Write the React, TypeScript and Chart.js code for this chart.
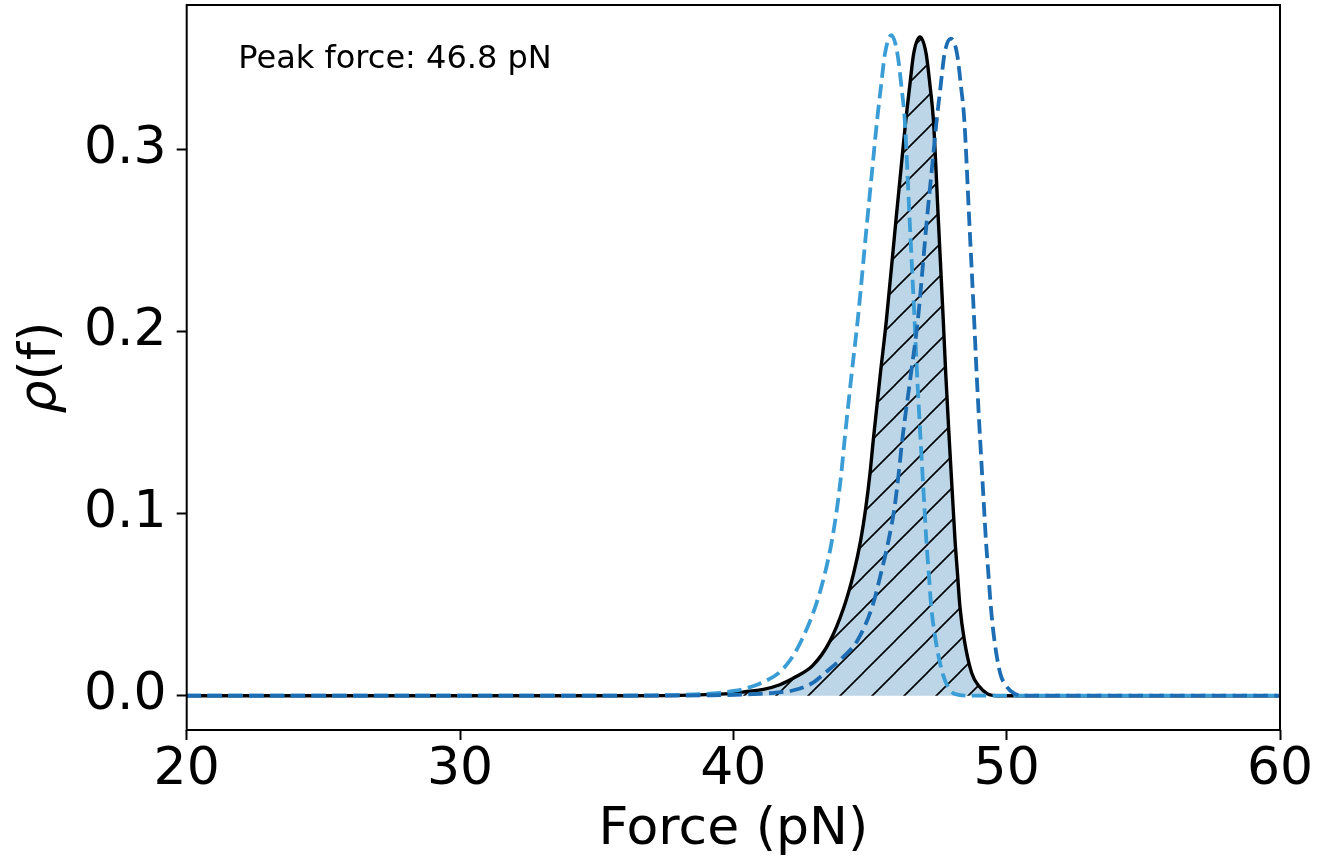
import React, { useEffect, useRef } from "react";
import { Chart, registerables } from "chart.js";

Chart.register(...registerables);

// ---- data ----
const forceMain = [20, 36, 38, 39, 40, 40.5, 41.1, 41.7, 42.3, 42.9, 43.5, 44.05, 44.4, 44.66, 44.85, 45.0, 45.12, 45.38, 45.6, 45.95, 46.13, 46.31, 46.45, 46.6, 46.83, 47.05, 47.2, 47.32, 47.5, 47.68, 47.77, 47.9, 48.04, 48.11, 48.2, 48.29, 48.45, 48.72, 49.0, 49.3, 49.65, 60];
const rhoMain = [0, 0, 0.0002, 0.0006, 0.0013, 0.0023, 0.0035, 0.006, 0.0105, 0.0165, 0.029, 0.0489, 0.0672, 0.0855, 0.1038, 0.1222, 0.1405, 0.1771, 0.2064, 0.2614, 0.2889, 0.3163, 0.3346, 0.353, 0.362, 0.353, 0.3346, 0.3163, 0.2614, 0.2064, 0.1771, 0.1405, 0.1038, 0.0855, 0.0672, 0.0489, 0.0306, 0.0125, 0.005, 0.001, 0, 0];

const forceLow = [20, 35, 37, 38.5, 39.26, 40.0, 40.49, 41.1, 41.7, 42.1, 42.5, 43.0, 43.35, 43.61, 43.8, 43.95, 44.07, 44.33, 44.55, 44.9, 45.08, 45.26, 45.4, 45.55, 45.78, 46.0, 46.15, 46.27, 46.45, 46.63, 46.72, 46.85, 46.99, 47.06, 47.15, 47.24, 47.4, 47.65, 47.93, 48.25, 48.6, 60];
const rhoLow = [0, 0, 0.0002, 0.0007, 0.0013, 0.0026, 0.0041, 0.0075, 0.013, 0.02, 0.0306, 0.0489, 0.0672, 0.0855, 0.1038, 0.1222, 0.1405, 0.1771, 0.2064, 0.2614, 0.2889, 0.3163, 0.3346, 0.353, 0.363, 0.353, 0.3346, 0.3163, 0.2614, 0.2064, 0.1771, 0.1405, 0.1038, 0.0855, 0.0672, 0.0489, 0.0306, 0.0125, 0.003, 0.0004, 0, 0];

const forceHigh = [20, 37, 39, 40.5, 41.5, 42.2, 42.9, 43.35, 44.0, 44.55, 45.08, 45.4, 45.68, 45.9, 46.05, 46.18, 46.5, 46.75, 47.08, 47.26, 47.44, 47.58, 47.73, 47.96, 48.18, 48.33, 48.45, 48.63, 48.81, 48.9, 49.03, 49.17, 49.24, 49.33, 49.42, 49.55, 49.76, 50.0, 50.3, 50.7, 60];
const rhoHigh = [0, 0, 0.0002, 0.0007, 0.0016, 0.003, 0.007, 0.0125, 0.021, 0.0306, 0.0489, 0.0672, 0.0855, 0.1038, 0.1222, 0.1405, 0.1771, 0.2064, 0.2614, 0.2889, 0.3163, 0.3346, 0.353, 0.361, 0.353, 0.3346, 0.3163, 0.2614, 0.2064, 0.1771, 0.1405, 0.1038, 0.0855, 0.0672, 0.0489, 0.0306, 0.0125, 0.005, 0.001, 0, 0];

const xTicks = [20, 30, 40, 50, 60];
const yTicks = [0, 0.1, 0.2, 0.3];
const xRange = [20, 60];
const yRange = [-0.01885, 0.3795];
const xTitle = "Force (pN)";
const yTitleSymbol = "ρ";
const yTitleRest = "(f)";
const peakLabel = "Peak force: 46.8 pN";

const FONT = '"DejaVu Sans", "Noto Sans", sans-serif';

function zip(xs: number[], ys: number[]) {
  return xs.map((x, i) => ({ x, y: ys[i] }));
}

export default function App() {
  const ref = useRef<HTMLCanvasElement>(null);

  useEffect(() => {
    const canvas = ref.current!;
    const s = 32;
    const tile = document.createElement("canvas");
    tile.width = s;
    tile.height = s;
    const g = tile.getContext("2d")!;
    g.fillStyle = "#bcd6e8";
    g.fillRect(0, 0, s, s);
    g.strokeStyle = "#000";
    g.lineWidth = 1.6;
    g.beginPath();
    for (const c of [0, s, 2 * s]) {
      g.moveTo(c + 2, -2);
      g.lineTo(-2, c + 2);
    }
    g.stroke();
    const pattern = canvas.getContext("2d")!.createPattern(tile, "repeat");

    const decor = {
      id: "decor",
      afterDatasetsDraw(chart: any) {
        const { ctx, chartArea: a } = chart;
        ctx.save();
        ctx.strokeStyle = "#000";
        ctx.lineWidth = 2;
        ctx.strokeRect(a.left, a.top, a.right - a.left, a.bottom - a.top);
        ctx.restore();
      },
      afterDraw(chart: any) {
        const { ctx, chartArea: a } = chart;
        const w = a.right - a.left;
        const h = a.bottom - a.top;
        ctx.save();
        ctx.fillStyle = "#000";
        ctx.textAlign = "left";
        ctx.textBaseline = "alphabetic";
        ctx.font = `32px ${FONT}`;
        ctx.fillText(peakLabel, a.left + 0.05 * w - 3, a.top + 0.05 * h + 27);
        ctx.restore();

        ctx.save();
        ctx.fillStyle = "#000";
        ctx.translate(54.5, (a.top + a.bottom) / 2);
        ctx.rotate(-Math.PI / 2);
        ctx.textBaseline = "alphabetic";
        ctx.textAlign = "left";
        ctx.font = `italic 52px ${FONT}`;
        const w1 = ctx.measureText(yTitleSymbol).width;
        ctx.font = `52px ${FONT}`;
        const w2 = ctx.measureText(yTitleRest).width;
        const start = -(w1 + w2) / 2;
        ctx.font = `italic 52px ${FONT}`;
        ctx.fillText(yTitleSymbol, start, 0);
        ctx.font = `52px ${FONT}`;
        ctx.fillText(yTitleRest, start + w1, 0);
        ctx.restore();
      },
    };

    const dashed = {
      borderWidth: 3.8,
      borderDash: [14.4, 6.4],
      pointRadius: 0,
      fill: false,
      cubicInterpolationMode: "monotone" as const,
    };

    const chart = new Chart(canvas, {
      type: "line",
      data: {
        datasets: [
          { label: "high", data: zip(forceHigh, rhoHigh), borderColor: "#1c6db3", ...dashed },
          { label: "low", data: zip(forceLow, rhoLow), borderColor: "#3a9dd5", ...dashed },
          {
            label: "main",
            data: zip(forceMain, rhoMain),
            borderColor: "#000",
            borderWidth: 3.4,
            pointRadius: 0,
            fill: "origin",
            backgroundColor: pattern as any,
            cubicInterpolationMode: "monotone",
          },
        ],
      },
      options: {
        animation: false,
        responsive: false,
        devicePixelRatio: 1,
        layout: { padding: { left: 0, top: 5, right: 43, bottom: 0 } },
        plugins: { legend: { display: false }, tooltip: { enabled: false } },
        scales: {
          x: {
            type: "linear",
            min: xRange[0],
            max: xRange[1],
            afterBuildTicks: (sc: any) => {
              sc.ticks = xTicks.map((v) => ({ value: v }));
            },
            afterFit: (sc: any) => {
              sc.height = 137;
              sc.paddingLeft = 0;
              sc.paddingRight = 0;
            },
            border: { display: false },
            grid: { drawOnChartArea: false, drawTicks: true, tickLength: 10, tickWidth: 2, tickColor: "#000" },
            ticks: {
              color: "#000",
              font: { family: FONT, size: 52, lineHeight: 1.1 },
              padding: 2,
              maxRotation: 0,
              autoSkip: false,
              callback: (v: any) => String(v),
            },
            title: {
              display: true,
              text: xTitle,
              color: "#000",
              font: { family: FONT, size: 52, lineHeight: 1.2 },
              padding: { top: 0, bottom: 5.5 },
            },
          },
          y: {
            type: "linear",
            min: yRange[0],
            max: yRange[1],
            afterBuildTicks: (sc: any) => {
              sc.ticks = yTicks.map((v) => ({ value: v }));
            },
            afterFit: (sc: any) => {
              sc.width = 186.7;
              sc.paddingTop = 0;
              sc.paddingBottom = 0;
            },
            border: { display: false },
            grid: { drawOnChartArea: false, drawTicks: true, tickLength: 10, tickWidth: 2, tickColor: "#000" },
            ticks: {
              color: "#000",
              font: { family: FONT, size: 52 },
              padding: 10,
              autoSkip: false,
              callback: (v: any) => Number(v).toFixed(1),
            },
          },
        },
      },
      plugins: [decor],
    });

    return () => chart.destroy();
  }, []);

  return (
    <canvas
      ref={ref}
      width={1323}
      height={867}
      style={{ position: "absolute", left: 0, top: 0, width: 1323, height: 867, display: "block" }}
    />
  );
}
